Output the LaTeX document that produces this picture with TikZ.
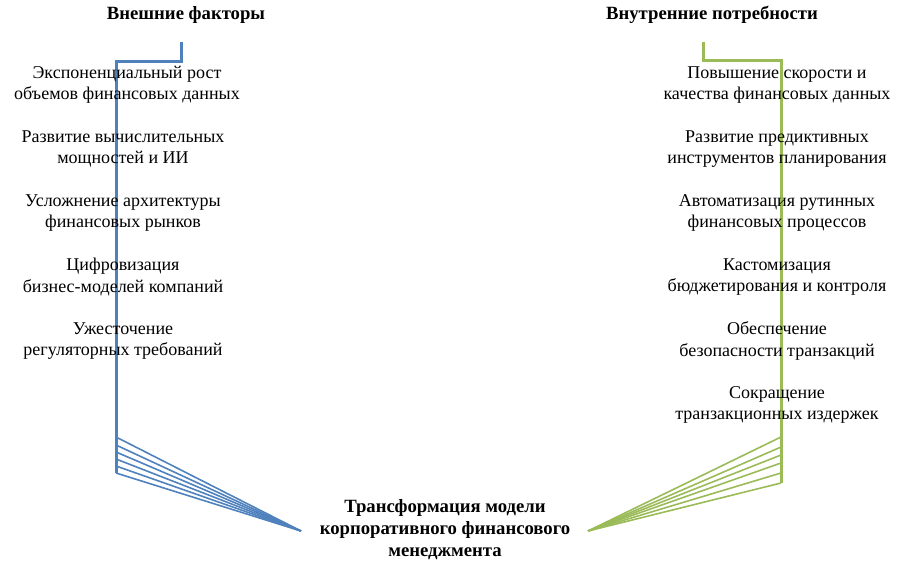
\documentclass[tikz,border=0pt]{standalone}
\usepackage{fontspec}
\setmainfont{Liberation Serif}
\definecolor{lblue}{HTML}{4F81BD}
\definecolor{lgreen}{HTML}{9BBB59}
\begin{document}
\begin{tikzpicture}[x=1pt,y=-1pt,
  item/.style={align=center,font=\fontsize{18}{21.3}\selectfont,inner sep=0pt},
  head/.style={align=center,font=\fontsize{18.7}{22}\selectfont\bfseries,inner sep=0pt},
  thickb/.style={draw=lblue,line width=3pt},
  thickg/.style={draw=lgreen,line width=3pt},
  fanb/.style={draw=lblue,line width=1.6pt},
  fang/.style={draw=lgreen,line width=1.6pt}]
\useasboundingbox (0,0) rectangle (903,568);
% headings
\node[head] (hl) at (186,15) {Внешние факторы};
\node[head] (hr) at (712,15) {Внутренние потребности};
\node[head] (res) at (445,530) {Трансформация модели\\корпоративного финансового\\менеджмента};
% bracket coordinates
\coordinate (b0) at (181,42);
\coordinate (b1) at (181,61);
\coordinate (b2) at (116,61);
\coordinate (b3) at (116,473);
\coordinate (g0) at (703,42);
\coordinate (g1) at (703,60);
\coordinate (g2) at (781,60);
\coordinate (g3) at (781,483);
\coordinate (bt) at (301,531);
\coordinate (gt) at (588,531);
\draw[thickb] (b0) -- (b1) -- (b2) -- (b3);
\draw[thickg] (g0) -- (g1) -- (g2) -- (g3);
\foreach \y [count=\i] in {437,445,452,459,466,473}{
  \coordinate (bf\i) at (116,\y);
  \draw[fanb] (bf\i) -- (bt);
}
\foreach \y [count=\i] in {437,447,455,463,473,483}{
  \coordinate (gf\i) at (781,\y);
  \draw[fang] (gf\i) -- (gt);
}
% left items
\node[item] (l1) at (127,85) {Экспоненциальный рост\\объемов финансовых данных};
\node[item] (l2) at (123,149) {Развитие вычислительных\\мощностей и ИИ};
\node[item] (l3) at (123,213) {Усложнение архитектуры\\финансовых рынков};
\node[item] (l4) at (123,277) {Цифровизация\\бизнес-моделей компаний};
\node[item] (l5) at (123,341) {Ужесточение\\регуляторных требований};
% right items
\node[item] (r1) at (777,85) {Повышение скорости и\\качества финансовых данных};
\node[item] (r2) at (777,149) {Развитие предиктивных\\инструментов планирования};
\node[item] (r3) at (777,213) {Автоматизация рутинных\\финансовых процессов};
\node[item] (r4) at (777,277) {Кастомизация\\бюджетирования и контроля};
\node[item] (r5) at (777,341) {Обеспечение\\безопасности транзакций};
\node[item] (r6) at (777,405) {Сокращение\\транзакционных издержек};
\end{tikzpicture}
\end{document}
